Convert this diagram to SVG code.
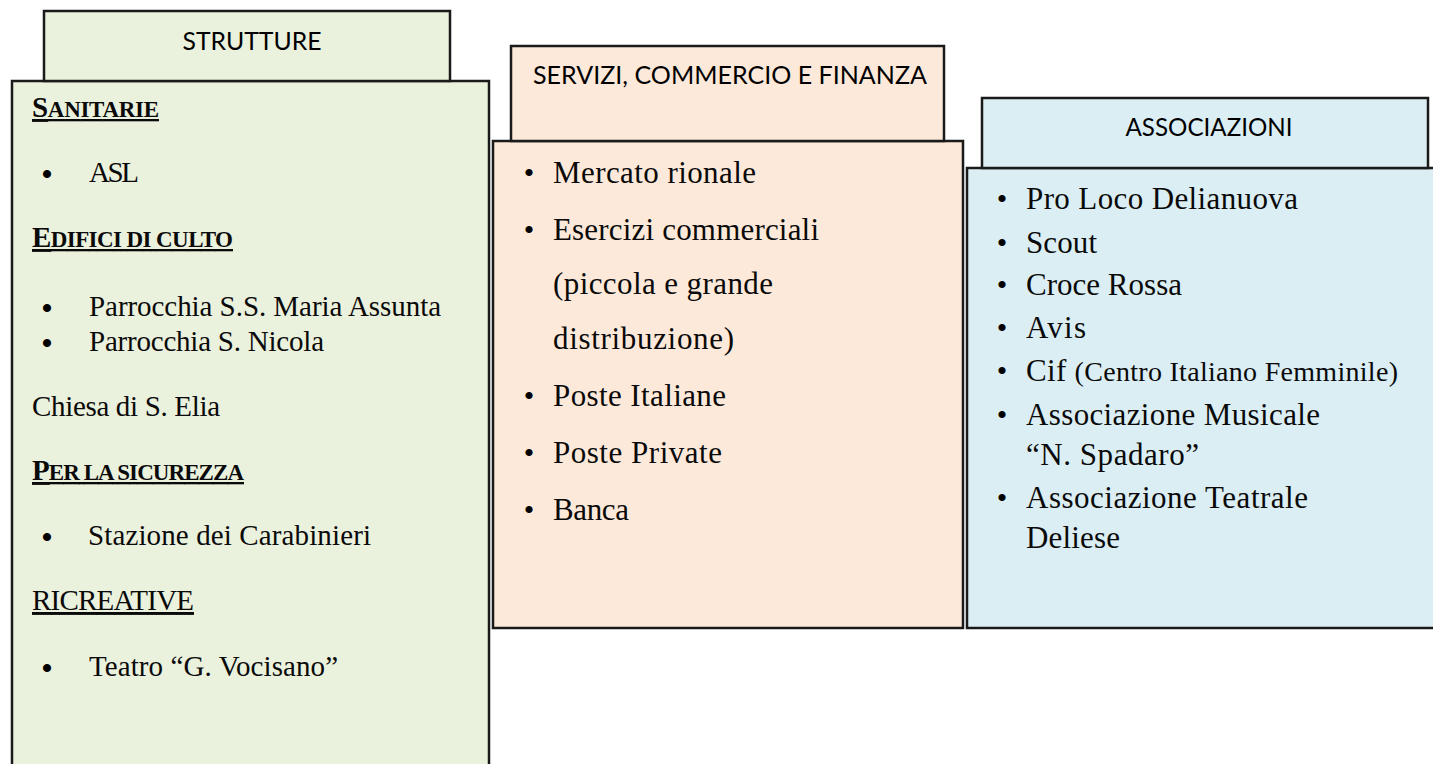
<svg xmlns="http://www.w3.org/2000/svg" width="1433" height="764" viewBox="0 0 1433 764">
<style>
.box{stroke:#1a1a1a;stroke-width:2.5}
.g{fill:#EAF1DD}
.o{fill:#FDE9D9}
.b{fill:#DBEEF3}
.ttl{font-family:Lato,"Open Sans","Liberation Sans",sans-serif;font-size:25px;fill:#000;text-anchor:middle}
.t{font-family:"Liberation Serif","DejaVu Serif",serif;fill:#0a0a0a}
.l{font-size:29px}
.m{font-size:31px}
.h{font-weight:bold;text-decoration:underline}
.u{text-decoration:underline}
.sc{font-size:23px}
.bl{font-family:"Liberation Serif",serif;font-size:30px;font-weight:bold;fill:#000;text-anchor:middle}
.bm{font-family:"Liberation Serif",serif;font-size:30px;fill:#000;text-anchor:middle}
</style>
<rect width="1433" height="764" fill="#ffffff"/>
<g id="connectors"/>
<g id="strutture">
  <rect class="box g" x="12" y="81" width="477" height="720"/>
  <rect class="box g" x="44" y="11" width="406" height="70"/>
  <text class="ttl" x="252" y="50" textLength="139" lengthAdjust="spacingAndGlyphs">STRUTTURE</text>
  <text class="t l h" x="32" y="117" textLength="127">S<tspan class="sc">ANITARIE</tspan></text>
  <text class="bl" x="47" y="184">•</text>
  <text class="t l" x="89" y="182" textLength="50">ASL</text>
  <text class="t l h" x="32" y="247" textLength="201">E<tspan class="sc">DIFICI DI CULTO</tspan></text>
  <text class="bl" x="47" y="318">•</text>
  <text class="t l" x="89" y="316" textLength="352">Parrocchia S.S. Maria Assunta</text>
  <text class="bl" x="47" y="353">•</text>
  <text class="t l" x="89" y="351" textLength="235">Parrocchia S. Nicola</text>
  <text class="t l" x="32" y="416" textLength="188">Chiesa di S. Elia</text>
  <text class="t l h" x="32" y="480" textLength="212">P<tspan class="sc">ER LA SICUREZZA</tspan></text>
  <text class="bl" x="47" y="547">•</text>
  <text class="t l" x="88" y="545" textLength="283">Stazione dei Carabinieri</text>
  <text class="t l u" x="32" y="610" textLength="162">RICREATIVE</text>
  <text class="bl" x="47" y="678">•</text>
  <text class="t l" x="89" y="676" textLength="249">Teatro “G. Vocisano”</text>
</g>
<g id="servizi">
  <rect class="box o" x="493" y="141" width="470" height="487"/>
  <rect class="box o" x="511" y="46" width="433" height="95"/>
  <text class="ttl" x="730" y="84" textLength="394" lengthAdjust="spacingAndGlyphs">SERVIZI, COMMERCIO E FINANZA</text>
  <text class="bm" x="529" y="183">•</text>
  <text class="t m" x="553" y="183" textLength="203">Mercato rionale</text>
  <text class="bm" x="529" y="240">•</text>
  <text class="t m" x="553" y="240" textLength="266">Esercizi commerciali</text>
  <text class="t m" x="553" y="294" textLength="220">(piccola e grande</text>
  <text class="t m" x="553" y="349" textLength="181">distribuzione)</text>
  <text class="bm" x="529" y="406">•</text>
  <text class="t m" x="553" y="406" textLength="173">Poste Italiane</text>
  <text class="bm" x="529" y="463">•</text>
  <text class="t m" x="553" y="463" textLength="169">Poste Private</text>
  <text class="bm" x="529" y="520">•</text>
  <text class="t m" x="553" y="520" textLength="76">Banca</text>
</g>
<g id="associazioni">
  <rect class="box b" x="967" y="168" width="490" height="460"/>
  <rect class="box b" x="982" y="98" width="446" height="70"/>
  <text class="ttl" x="1209" y="136" textLength="167" lengthAdjust="spacingAndGlyphs">ASSOCIAZIONI</text>
  <text class="bm" x="1002" y="209">•</text>
  <text class="t m" x="1026" y="209" textLength="272">Pro Loco Delianuova</text>
  <text class="bm" x="1002" y="253">•</text>
  <text class="t m" x="1026" y="253" textLength="71">Scout</text>
  <text class="bm" x="1002" y="295">•</text>
  <text class="t m" x="1026" y="295" textLength="156">Croce Rossa</text>
  <text class="bm" x="1002" y="338">•</text>
  <text class="t m" x="1026" y="338" textLength="60">Avis</text>
  <text class="bm" x="1002" y="381">•</text>
  <text class="t m" x="1026" y="381" textLength="372">Cif <tspan font-size="28">(Centro Italiano Femminile)</tspan></text>
  <text class="bm" x="1002" y="425">•</text>
  <text class="t m" x="1026" y="425" textLength="294">Associazione Musicale</text>
  <text class="t m" x="1026" y="465" textLength="173">“N. Spadaro”</text>
  <text class="bm" x="1002" y="508">•</text>
  <text class="t m" x="1026" y="508" textLength="282">Associazione Teatrale</text>
  <text class="t m" x="1026" y="548" textLength="94">Deliese</text>
</g>
</svg>
